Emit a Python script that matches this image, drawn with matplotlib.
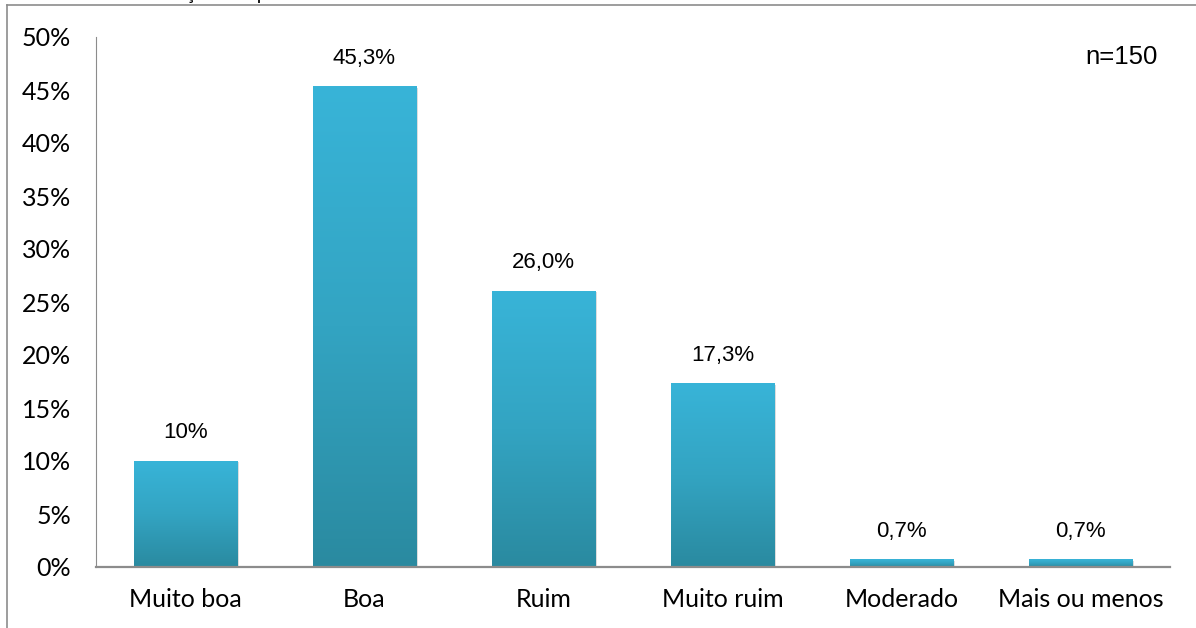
import numpy as np
import matplotlib.pyplot as plt
from matplotlib.colors import LinearSegmentedColormap
from matplotlib.lines import Line2D

categorias = ['Muito boa', 'Boa', 'Ruim', 'Muito ruim', 'Moderado', 'Mais ou menos']
percentuais = [10.0, 45.3, 26.0, 17.3, 0.7, 0.7]
rotulos = ['10%', '45,3%', '26,0%', '17,3%', '0,7%', '0,7%']
yticks = [0, 5, 10, 15, 20, 25, 30, 35, 40, 45, 50]

plt.rcParams['font.family'] = ['Lato', 'DejaVu Sans']
arial = ['Liberation Sans', 'DejaVu Sans']

fig = plt.figure(figsize=(11.96, 6.28), dpi=100)
ax = fig.add_axes([96 / 1196, 61 / 628, 1074 / 1196, 530 / 628])

# gradiente vertical das barras (claro no topo, escuro na base)
grad = LinearSegmentedColormap.from_list('barra', ['#2a8aa0', '#33a4c2', '#38b4d8'])
x = np.arange(len(categorias))
largura = 0.58
bars = ax.bar(x, percentuais, width=largura, color='none', edgecolor='none', zorder=2)
for b in bars:
    x0, y0 = b.get_x(), b.get_y()
    w, h = b.get_width(), b.get_height()
    # sombra leve
    ax.add_patch(plt.Rectangle((x0 + 0.008, y0 - 0.1), w, h, color='#dddddd', zorder=1, lw=0))
    img = np.linspace(0, 1, 256).reshape(-1, 1)
    ax.imshow(img, cmap=grad, origin='lower', aspect='auto',
              extent=(x0, x0 + w, y0, y0 + h), zorder=2)

for xi, v, r in zip(x, percentuais, rotulos):
    ax.text(xi, v + 1.7, r, ha='center', va='bottom', fontsize=16,
            family=arial, color='black')

ax.set_xlim(-0.5, len(categorias) - 0.5)
ax.set_ylim(0, 50)
ax.set_yticks(yticks)
ax.set_yticklabels([f'{t}%' for t in yticks], fontsize=18)
ax.set_xticks(x)
ax.set_xticklabels(categorias, fontsize=18)
ax.tick_params(axis='both', length=0)
ax.tick_params(axis='y', pad=18)
ax.tick_params(axis='x', pad=15)
for s in ['top', 'right']:
    ax.spines[s].set_visible(False)
ax.spines['left'].set_color('#8c8c8c')
ax.spines['bottom'].set_color('#8c8c8c')
ax.spines['bottom'].set_linewidth(1.6)

ax.text(0.9885, 0.985, 'n=150', transform=ax.transAxes, ha='right', va='top',
        fontsize=18.5, family=arial)

# moldura externa do gráfico
fig.add_artist(Line2D([7 / 1196, 7 / 1196], [0, 1 - 5 / 628], color='#8c8c8c', lw=1.2))
fig.add_artist(Line2D([7 / 1196, 1], [1 - 5 / 628, 1 - 5 / 628], color='#8c8c8c', lw=1.2))

# título (linha acima da área, só a parte de baixo aparece)
fig.text(5 / 1196, 1 + 1 / 628, 'Gráfico 5 - Classificação da qualidade do sono',
         ha='left', va='baseline', fontsize=14, family=arial)

fig.savefig('out.png', dpi=100)
